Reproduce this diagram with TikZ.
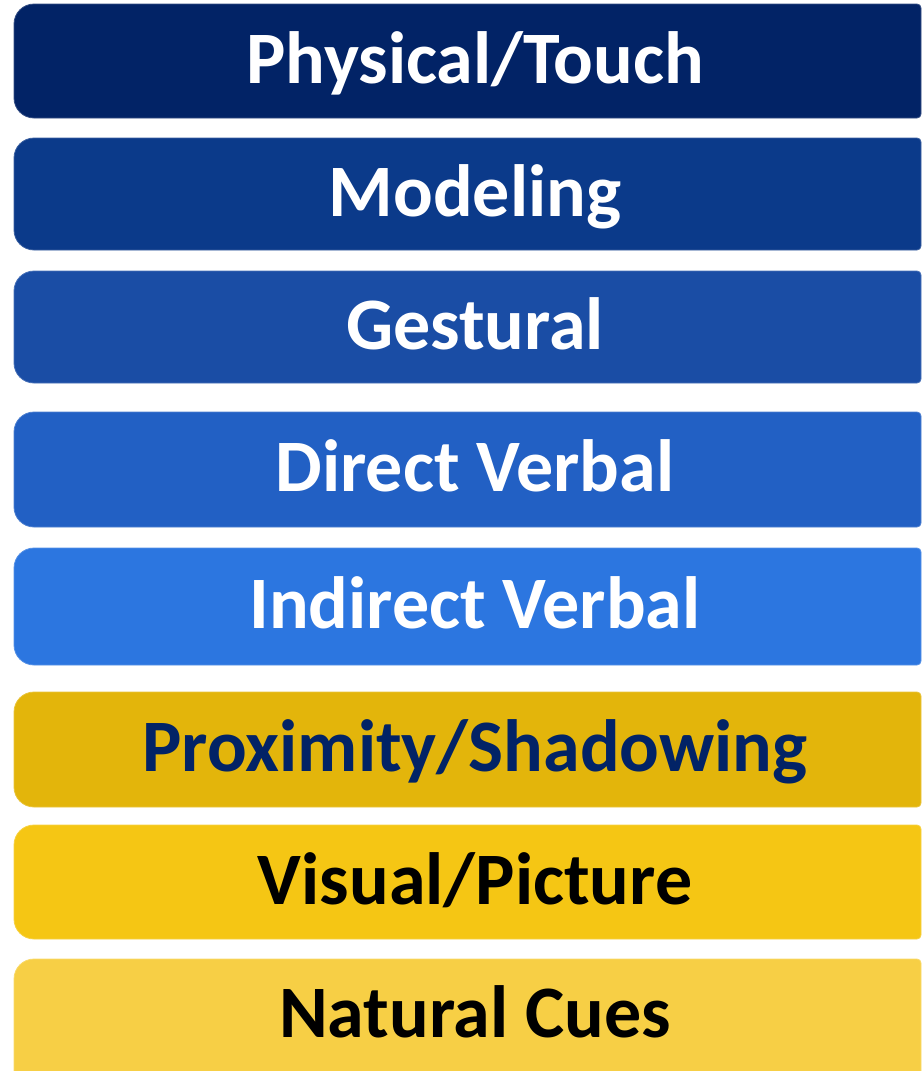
\documentclass[tikz,border=0pt]{standalone}
\usepackage{fontspec}
\setmainfont{Carlito}
\definecolor{cA}{HTML}{022366}
\definecolor{cB}{HTML}{0B3A8A}
\definecolor{cC}{HTML}{1A4DA5}
\definecolor{cD}{HTML}{2260C4}
\definecolor{cE}{HTML}{2C76E0}
\definecolor{cF}{HTML}{E3B50B}
\definecolor{cG}{HTML}{F5C614}
\definecolor{cH}{HTML}{F7CF45}
\newcommand\mybar[4]{%
  \path[fill=#3, draw=#3!80!white, line width=0.8pt, line join=round] (14,{(#1+#2)/2}) [rounded corners=20] -- (14,#1) -- (400,#1) [rounded corners=4] -- (921,#1) -- (921,#2) -- (400,#2) [rounded corners=20] -- (14,#2) -- cycle;
  \coordinate (#4) at (475,{(#1+#2)/2+22});}
\tikzset{lbl/.style={font=\bfseries\fontsize{74}{74}\selectfont, inner sep=0pt, anchor=base}}
\begin{document}
\begin{tikzpicture}[x=1pt,y=-1pt]
\useasboundingbox (0,0) rectangle (922,1071);
\mybar{4}{118}{cA}{b1}
\mybar{138}{250}{cB}{b2}
\mybar{271}{383}{cC}{b3}
\mybar{412}{527}{cD}{b4}
\mybar{548}{665}{cE}{b5}
\mybar{692}{807}{cF}{b6}
\mybar{825}{939}{cG}{b7}
\mybar{959}{1095}{cH}{b8}
\node[lbl, text=white] (t1) at (b1) {Physical/Touch};
\node[lbl, text=white] (t2) at (b2) {Modeling};
\node[lbl, text=white] (t3) at (b3) {Gestural};
\node[lbl, text=white] (t4) at (b4) {Direct Verbal};
\node[lbl, text=white] (t5) at (b5) {Indirect Verbal};
\node[lbl, text=cA] (t6) at (b6) {Proximity/Shadowing};
\node[lbl, text=black] (t7) at (b7) {Visual/Picture};
\node[lbl, text=black] (t8) at (475,1037) {Natural Cues};
\end{tikzpicture}
\end{document}
